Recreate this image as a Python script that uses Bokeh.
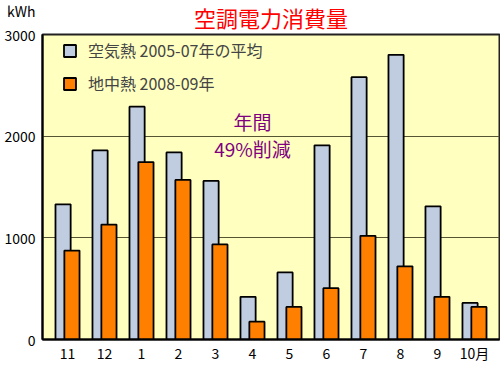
from bokeh.plotting import figure
from bokeh.models import FixedTicker, Label, Legend, LegendItem, Range1d, ColumnDataSource
from bokeh.transform import dodge
from bokeh.embed import file_html
from bokeh.resources import INLINE

months = ["11", "12", "1", "2", "3", "4", "5", "6", "7", "8", "9", "10月"]
air = [1330, 1860, 2290, 1840, 1560, 420, 660, 1910, 2580, 2800, 1310, 360]
geo = [875, 1130, 1745, 1570, 935, 175, 320, 505, 1020, 720, 420, 320]
y_ticks = [0, 1000, 2000, 3000]
series_names = ["空気熱 2005-07年の平均", "地中熱 2008-09年"]
title_text = "空調電力消費量"
unit_text = "kWh"
note_lines = ["年間", "49%削減"]

FONT = "Noto Sans CJK JP"

src = ColumnDataSource(dict(x=list(range(len(months))), air=air, geo=geo))

p = figure(width=500, height=365, output_backend="svg", toolbar_location=None,
           x_range=Range1d(-0.676, 11.676), y_range=Range1d(0, 3000),
           min_border_left=42, min_border_right=1, min_border_top=34, min_border_bottom=23)
p.background_fill_color = "#FFFFC0"
p.border_fill_color = "white"
p.outline_line_color = "#222222"
p.outline_line_width = 2

p.title.text = title_text
p.title.align = "center"
p.title.vertical_align = "top"
p.title.standoff = 0
p.title.text_line_height = 0.7
p.title.text_color = "#FF0000"
p.title.text_font = FONT
p.title.text_font_size = "22px"
p.title.text_font_style = "normal"

p.xgrid.visible = False
p.ygrid.ticker = FixedTicker(ticks=[1000, 2000])
p.ygrid.grid_line_color = "#555533"
p.ygrid.grid_line_width = 1

p.yaxis.ticker = FixedTicker(ticks=y_ticks)
p.yaxis.major_label_overrides = {y_ticks[-1]: unit_text + "\n" + str(y_ticks[-1]) + "\n "}
p.xaxis.ticker = FixedTicker(ticks=list(range(len(months))))
p.xaxis.major_label_overrides = {i: m for i, m in enumerate(months)}
for ax in (p.xaxis, p.yaxis):
    ax.major_tick_line_color = None
    ax.minor_tick_line_color = None
    ax.major_tick_out = 0
    ax.major_tick_in = 0
    ax.minor_tick_out = 0
    ax.axis_line_color = "black"
    ax.axis_line_width = 2
    ax.major_label_text_font = FONT
    ax.major_label_text_font_size = "14px"
    ax.major_label_text_color = "black"
p.yaxis.major_label_standoff = 7
p.xaxis.major_label_standoff = 3

r_air = p.vbar(x=dodge("x", -0.12, range=p.x_range), top="air", width=0.41, source=src,
               fill_color="#C0CCE0", line_color="black", line_width=1.8)
r_geo = p.vbar(x=dodge("x", 0.12, range=p.x_range), top="geo", width=0.41, source=src,
               fill_color="#FF8000", line_color="black", line_width=1.8)

legend = Legend(items=[LegendItem(label=series_names[0], renderers=[r_air]),
                       LegendItem(label=series_names[1], renderers=[r_geo])],
                location=(20, 244), orientation="vertical",
                glyph_width=15, glyph_height=15, label_height=15, spacing=9,
                padding=0, margin=0, label_standoff=11,
                label_text_font=FONT, label_text_font_size="16px",
                background_fill_alpha=0, border_line_color=None)
p.add_layout(legend)

p.add_layout(Label(x=5.0, y=2145, text=note_lines[0], text_align="center", text_baseline="middle",
                   text_color="#800080", text_font=FONT, text_font_size="19px"))
p.add_layout(Label(x=5.0, y=1882, text=note_lines[1], text_align="center", text_baseline="middle",
                   text_color="#800080", text_font=FONT, text_font_size="19px"))

open("out.html", "w").write(file_html(p, INLINE))
